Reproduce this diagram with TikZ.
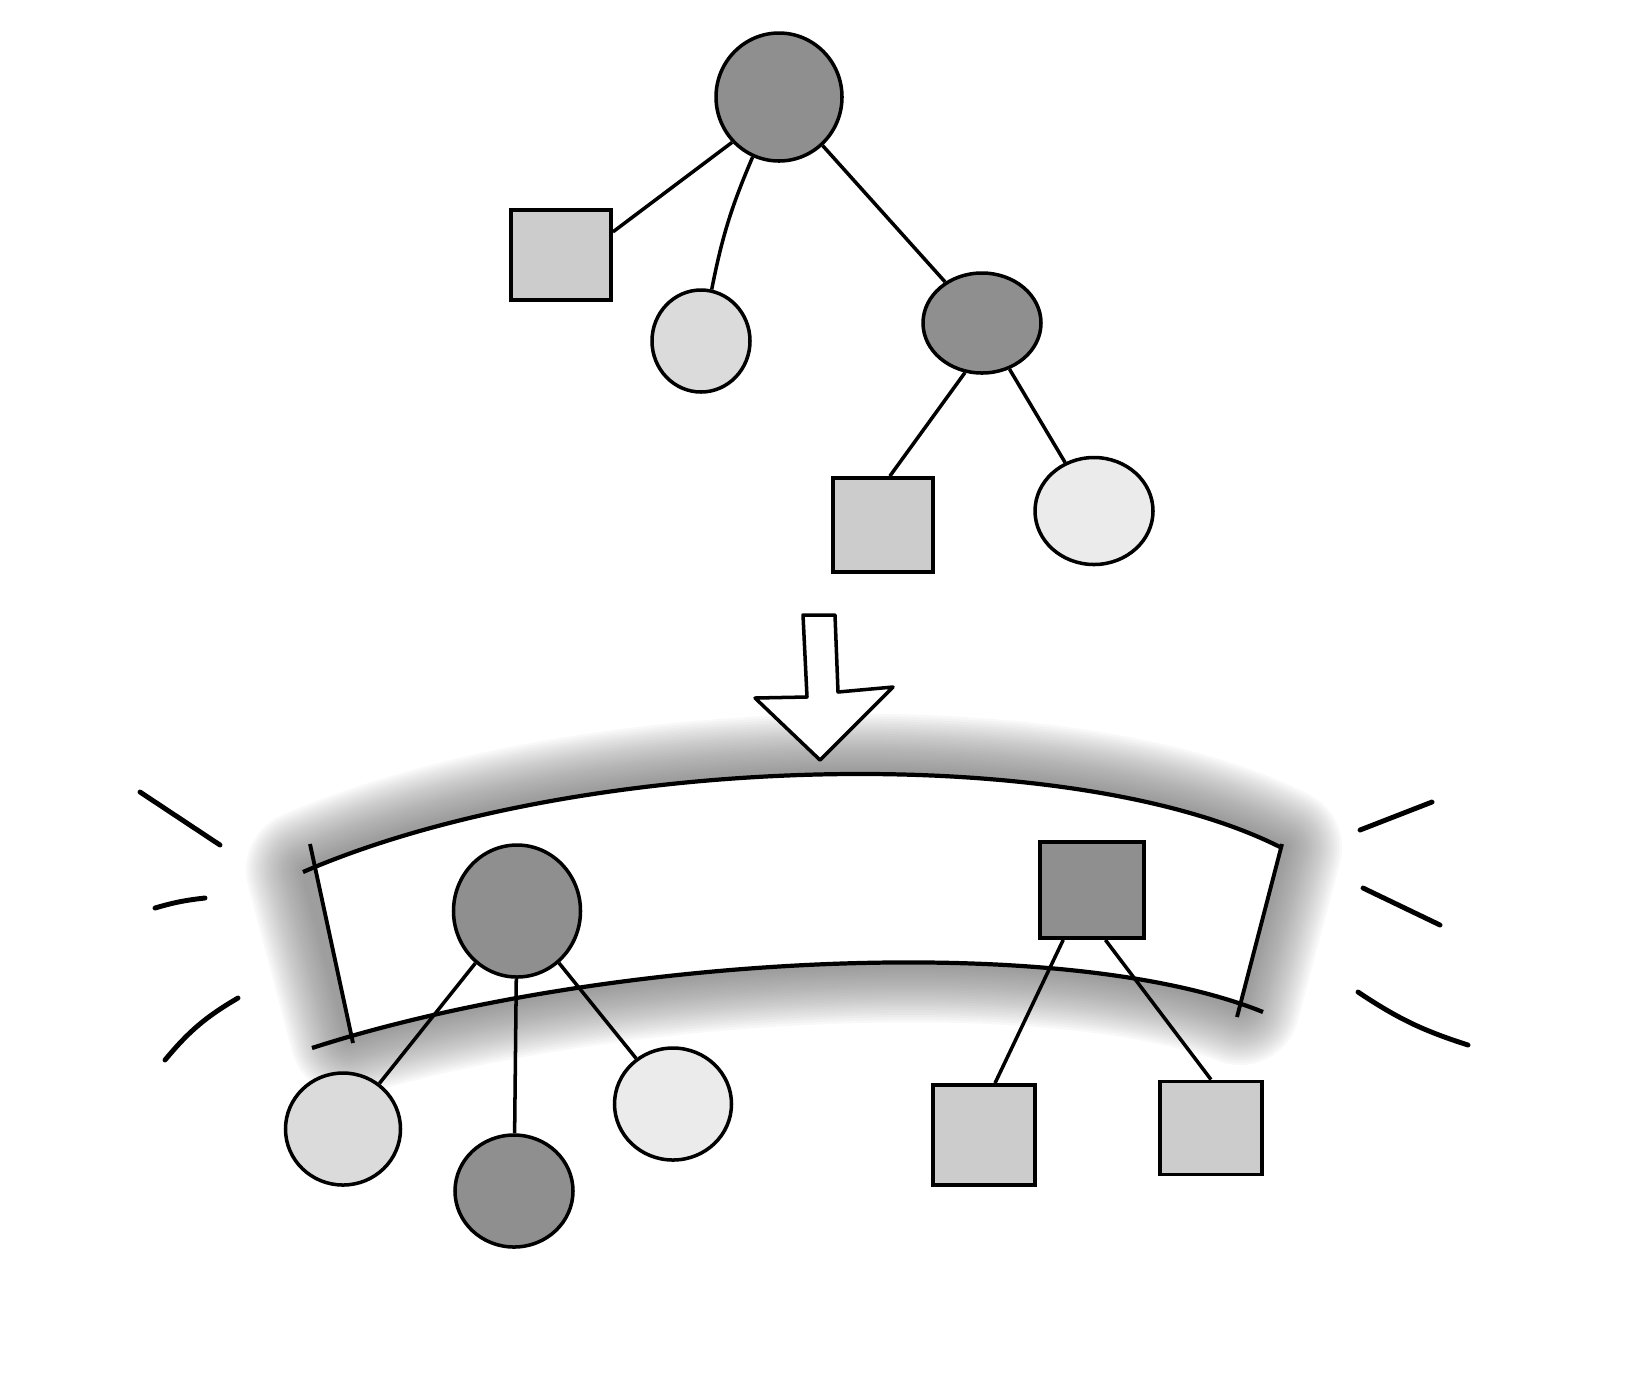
\documentclass[tikz,border=0pt]{standalone}
\usetikzlibrary{shapes.geometric}
\definecolor{hubgray}{gray}{0.56}
\definecolor{leafgray}{gray}{0.86}
\definecolor{palegray}{gray}{0.92}
\definecolor{boxgray}{gray}{0.80}
\definecolor{glowgray}{gray}{0.45}
\tikzset{
  hub/.style={ellipse, draw, line width=1pt, fill=hubgray, inner sep=0pt},
  leaf/.style={ellipse, draw, line width=1pt, fill=leafgray, inner sep=0pt},
  pale/.style={ellipse, draw, line width=1pt, fill=palegray, inner sep=0pt},
  box/.style={rectangle, draw, line width=1.1pt, fill=boxgray, inner sep=0pt},
  darkbox/.style={rectangle, draw, line width=1.1pt, fill=hubgray, inner sep=0pt},
  link/.style={line width=1pt},
  ray/.style={line width=1.4pt, line cap=round}
}
\begin{document}
\begin{tikzpicture}
    \useasboundingbox (0,0) rectangle (16.34,-13.96);
    \fill[white] (0,0) rectangle (16.34,-13.96);

    % Glow round the band
    \foreach \w in {1.20,1.15,...,0.05}
        \draw[glowgray, opacity=0.045, line width=\w cm, line join=round]
            (3.06,-8.70) .. controls (5.80,-7.52) and (10.70,-7.40) .. (12.82,-8.48)
            -- (12.40,-10.05) .. controls (10.50,-9.33) and (6.10,-9.58) .. (3.50,-10.36) -- cycle;
    \begin{scope}
        \clip (3.04,-8.14) -- (3.62,-10.83) -- (12.24,-10.69) -- (12.91,-8.09)
            -- (12.91,-7.00) -- (3.04,-7.00) -- cycle;
        \fill[white] (3.03,-8.72) .. controls (5.80,-7.52) and (10.70,-7.40) .. (12.82,-8.48)
            -- (12.63,-10.12) .. controls (10.60,-9.30) and (6.00,-9.55) .. (3.12,-10.48) -- cycle;
    \end{scope}

    % Band edges
    \draw[line width=1.2pt] (3.03,-8.72) .. controls (5.80,-7.52) and (10.70,-7.40) .. (12.82,-8.48);
    \draw[line width=1.2pt] (3.12,-10.48) .. controls (6.00,-9.55) and (10.60,-9.30) .. (12.63,-10.12);
    \draw[line width=1.1pt] (3.10,-8.44) -- (3.53,-10.43);
    \draw[line width=1.1pt] (12.82,-8.44) -- (12.37,-10.17);

    % Rays
    \draw[ray] (1.40,-7.92) -- (2.20,-8.45);
    \draw[ray] (1.55,-9.08) to[bend left=5] (2.05,-8.98);
    \draw[ray] (1.65,-10.60) to[bend left=10] (2.38,-9.98);
    \draw[ray] (13.60,-8.30) -- (14.32,-8.02);
    \draw[ray] (13.63,-8.88) -- (14.40,-9.25);
    \draw[ray] (13.58,-9.92) to[bend right=8] (14.68,-10.45);

    % Arrow
    \draw[line width=1pt, fill=white, line join=round] (8.03,-6.15) -- (8.35,-6.15) -- (8.38,-6.92)
        -- (8.93,-6.87) -- (8.20,-7.60) -- (7.55,-6.98) -- (8.07,-6.97) -- cycle;

    % Top tree
    \node[hub, minimum width=1.26cm, minimum height=1.28cm] (root) at (7.79,-0.97) {};
    \node[box, minimum width=1.0cm, minimum height=0.9cm] (tsq1) at (5.61,-2.55) {};
    \node[leaf, minimum width=0.98cm, minimum height=1.02cm] (tc1) at (7.01,-3.41) {};
    \node[hub, minimum width=1.18cm, minimum height=1.0cm] (tmid) at (9.82,-3.23) {};
    \node[box, minimum width=1.0cm, minimum height=0.94cm] (tsq2) at (8.83,-5.25) {};
    \node[pale, minimum width=1.18cm, minimum height=1.07cm] (tc2) at (10.94,-5.11) {};

    \draw[link] (root.224) -- (tsq1.24);
    \draw[link] (root) to[bend right=6] (tc1);
    \draw[link] (root) -- (tmid);
    \draw[link] (tmid.251) -- (tsq2.82);
    \draw[link] (tmid) -- (tc2);

    % Bottom trees
    \node[hub, minimum width=1.27cm, minimum height=1.32cm] (bhub) at (5.17,-9.11) {};
    \node[leaf, minimum width=1.15cm, minimum height=1.12cm] (bc1) at (3.43,-11.29) {};
    \node[hub, minimum width=1.18cm, minimum height=1.12cm] (bc2) at (5.14,-11.91) {};
    \node[pale, minimum width=1.17cm, minimum height=1.12cm] (bc3) at (6.73,-11.04) {};
    \node[darkbox, minimum width=1.04cm, minimum height=0.96cm] (bsq) at (10.92,-8.90) {};
    \node[box, minimum width=1.02cm, minimum height=1.0cm] (bsq1) at (9.84,-11.35) {};
    \node[box, minimum width=1.02cm, minimum height=0.93cm] (bsq2) at (12.11,-11.28) {};

    \draw[link] (bhub) -- (bc1);
    \draw[link] (bhub) -- (bc2);
    \draw[link] (bhub) -- (bc3);
    \draw[link] (bsq.240) -- (bsq1.78);
    \draw[link] (bsq.285) -- (bsq2.north);
\end{tikzpicture}
\end{document}
